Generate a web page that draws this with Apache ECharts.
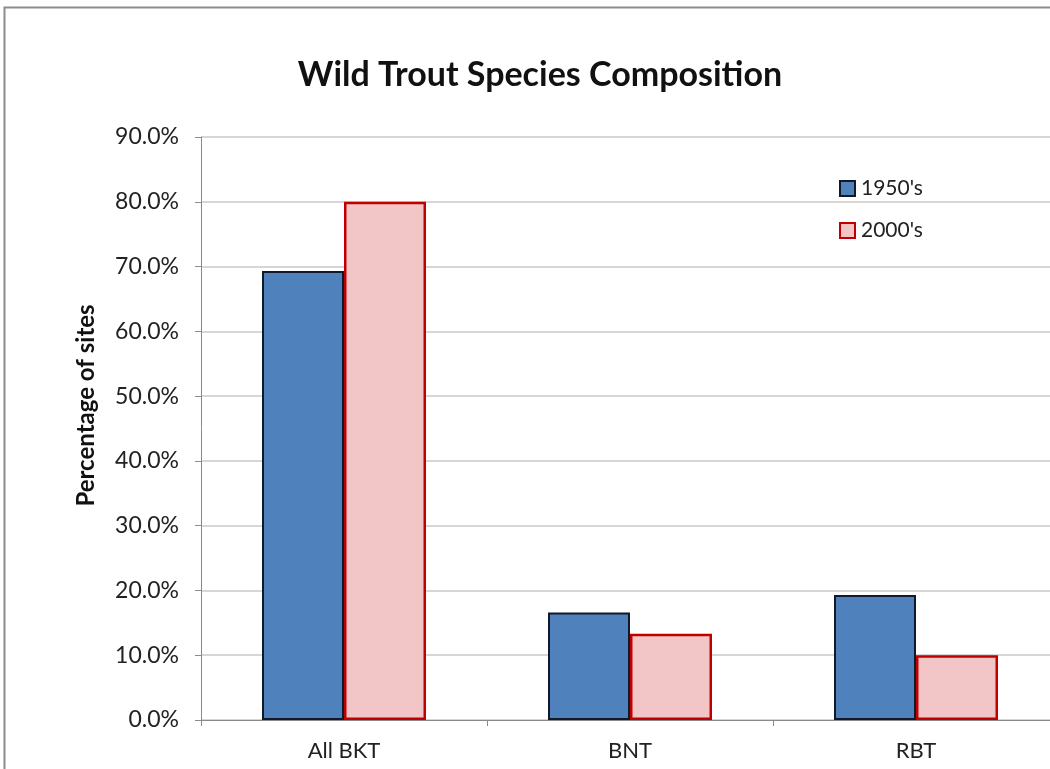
<!DOCTYPE html>
<html><head><meta charset="utf-8">
<script src="https://cdn.jsdelivr.net/npm/echarts@6/dist/echarts.min.js"></script>
<style>html,body{margin:0;padding:0;background:#fff}#c{width:1050px;height:769px}</style>
</head><body><div id="c"></div>
<script>
const categories = ['All BKT', 'BNT', 'RBT'];
const series1950 = [69.3, 16.6, 19.3];
const series2000 = [80.0, 13.3, 10.0];
const seriesNames = ["1950's", "2000's"];
const yTicks = { min: 0, max: 90, interval: 10 };

const chart = echarts.init(document.getElementById('c'), null, { renderer: 'canvas' });
const font = 'Lato, "Open Sans", "Liberation Sans", sans-serif';
chart.setOption({
  backgroundColor: '#fff',
  animation: false,
  graphic: [{
    type: 'rect', left: 2, top: 5, shape: { width: 1100, height: 800 },
    style: { fill: 'none', stroke: '#8c8c8c', lineWidth: 2 }, silent: true, z: -1
  }],
  title: {
    text: 'Wild Trout Species Composition', left: 535, textAlign: 'center', top: 53,
    textStyle: { fontFamily: font, fontSize: 34, fontWeight: 'bold', color: '#111' }
  },
  legend: {
    orient: 'vertical', left: 834, top: 173, itemGap: 21, itemWidth: 15, itemHeight: 15,
    icon: 'rect',
    data: seriesNames,
    textStyle: { fontFamily: font, fontSize: 21, color: '#222', padding: [0, 0, 0, 1] }
  },
  grid: { left: 201, top: 137, width: 858, height: 583, containLabel: false, outerBoundsMode: 'none' },
  xAxis: {
    type: 'category', data: categories,
    axisLine: { lineStyle: { color: '#8a8a8a', width: 1 } },
    axisTick: { show: true, alignWithLabel: false, length: 6, lineStyle: { color: '#8a8a8a' } },
    axisLabel: { fontFamily: font, fontSize: 22, color: '#222', margin: 20 }
  },
  yAxis: {
    type: 'value', min: yTicks.min, max: yTicks.max, interval: yTicks.interval,
    name: 'Percentage of sites', nameLocation: 'middle', nameGap: 103, nameRotate: 90,
    nameTextStyle: { fontFamily: font, fontSize: 24, fontWeight: 'bold', color: '#111', padding: [0, 0, 0, 46] },
    axisLine: { show: true, lineStyle: { color: '#8a8a8a' } },
    axisTick: { show: true, inside: false, length: 6, lineStyle: { color: '#8a8a8a' } },
    axisLabel: { fontFamily: font, fontSize: 23, color: '#222', margin: 22, formatter: v => v.toFixed(1) + '%' },
    splitLine: { lineStyle: { color: '#c8c8c8', width: 1.5 } }
  },
  series: [
    { name: seriesNames[0], type: 'bar', data: series1950, barWidth: 82, barGap: '0%',
      itemStyle: { color: '#4F81BD', borderColor: '#111827', borderWidth: 2 } },
    { name: seriesNames[1], type: 'bar', data: series2000, barWidth: 82,
      itemStyle: { color: '#f2c6c7', borderColor: '#C00000', borderWidth: 2.5 } }
  ]
});
</script></body></html>
